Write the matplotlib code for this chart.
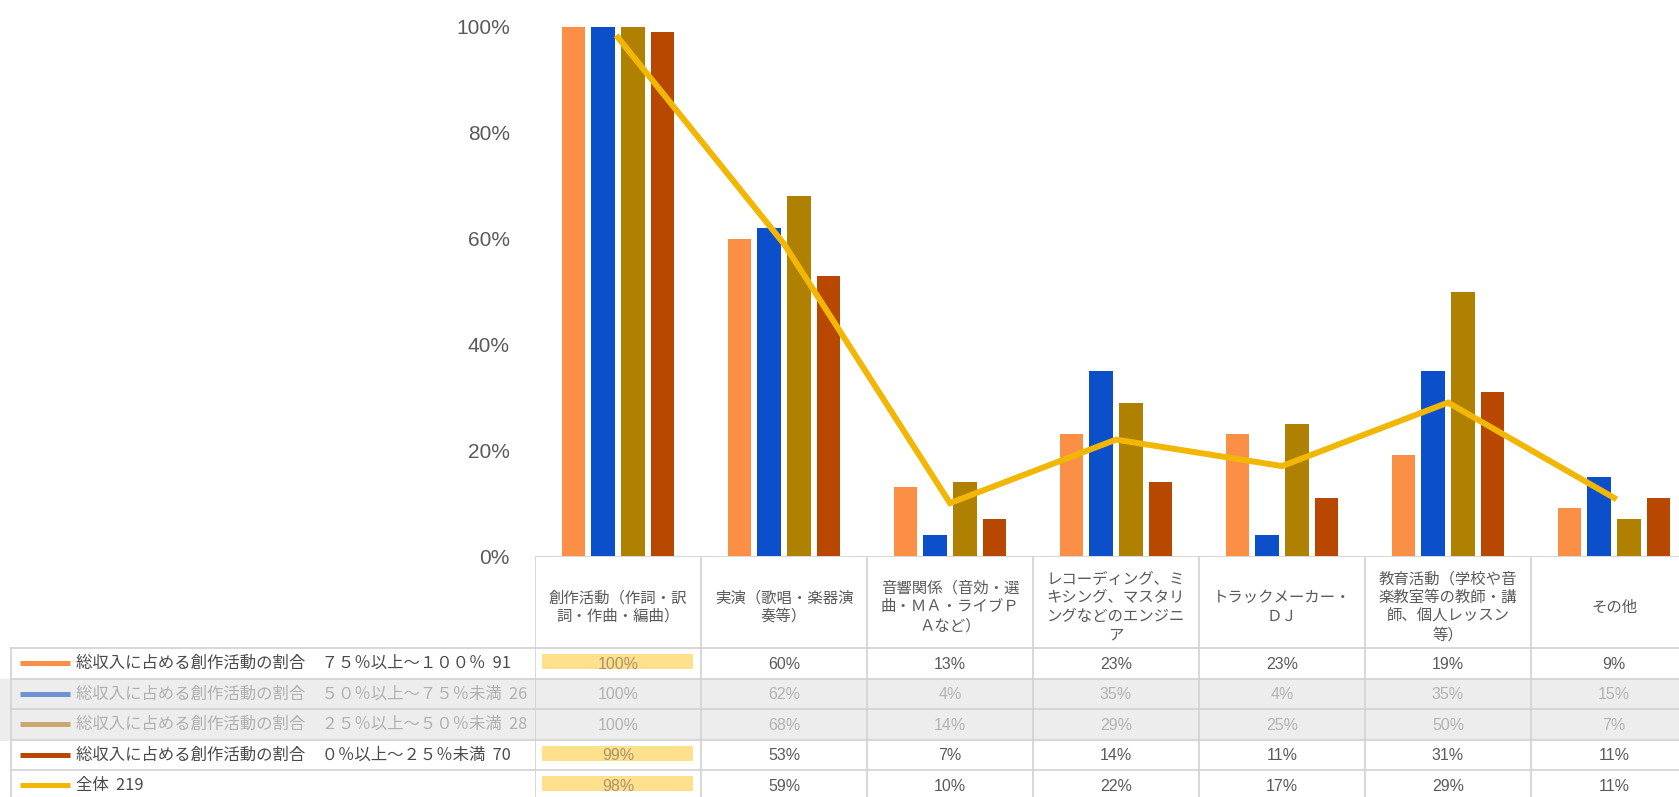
import matplotlib
matplotlib.use('Agg')
import matplotlib.pyplot as plt
from matplotlib.patches import Rectangle
import numpy as np

# ---------------- data ----------------
categories = [
    "創作活動（作詞・訳\n詞・作曲・編曲）",
    "実演（歌唱・楽器演\n奏等）",
    "音響関係（音効・選\n曲・ＭＡ・ライブＰ\nＡなど）",
    "レコーディング、ミ\nキシング、マスタリ\nングなどのエンジニ\nア",
    "トラックメーカー・\nＤＪ",
    "教育活動（学校や音\n楽教室等の教師・講\n師、個人レッスン\n等）",
    "その他",
]
series_labels = [
    "総収入に占める創作活動の割合　７５％以上～１００％  91",
    "総収入に占める創作活動の割合　５０％以上～７５％未満  26",
    "総収入に占める創作活動の割合　２５％以上～５０％未満  28",
    "総収入に占める創作活動の割合　０％以上～２５％未満  70",
    "全体  219",
]
s_75_100 = [100, 60, 13, 23, 23, 19, 9]
s_50_75 = [100, 62, 4, 35, 4, 35, 15]
s_25_50 = [100, 68, 14, 29, 25, 50, 7]
s_0_25 = [99, 53, 7, 14, 11, 31, 11]
total = [98, 59, 10, 22, 17, 29, 11]
faded_rows = [1, 2]
yticks = [0, 20, 40, 60, 80, 100]

bar_series = [s_75_100, s_50_75, s_25_50, s_0_25]
bar_colors = ['#FA8F45', '#0C4FCB', '#B08000', '#B84700']
legend_colors = ['#FA8F45', '#6F92D2', '#C9A970', '#B84700', '#F2B705']
line_color = '#F2B705'

CJK = ['Noto Sans CJK JP', 'DejaVu Sans']
NUM = ['Liberation Sans', 'DejaVu Sans']

W, H = 1679, 797
fig = plt.figure(figsize=(W / 100, H / 100), dpi=100)
fig.patch.set_facecolor('white')

# pixel layout
x_left, x_right = 535, 1697
y_zero, y_top = 556, 27
header_h = 92
row_h = 30.5

# ---------------- main chart ----------------
ax = fig.add_axes([x_left / W, 1 - y_zero / H, (x_right - x_left) / W, (y_zero - y_top) / H])
ax.set_facecolor('none')
n = len(categories)
x = np.arange(n)
ax.set_xlim(-0.5, n - 0.5)
ax.set_ylim(0, 100)
step, bw = 0.18, 0.14
for k, (vals, col) in enumerate(zip(bar_series, bar_colors)):
    ax.bar(x + (k - 1.5) * step, vals, width=bw, color=col, zorder=2)
ax.plot(x, total, color=line_color, lw=4.3, zorder=3, solid_joinstyle='miter')
ax.set_yticks(yticks)
ax.set_yticklabels([f"{v}%" for v in yticks], family=NUM, fontsize=15, color='#5A5A5A')
ax.tick_params(axis='y', length=0, pad=18)
ax.set_xticks([])
for s in ax.spines.values():
    s.set_visible(False)

# ---------------- table (data columns) ----------------
tab_h = H - y_zero
tax = fig.add_axes([x_left / W, 0, (x_right - x_left) / W, tab_h / H])
tax.set_xlim(-0.5, n - 0.5)
tax.set_ylim(tab_h, 0)
tax.axis('off')
tax.set_facecolor('none')

lax = fig.add_axes([0, 0, x_left / W, tab_h / H])
lax.set_xlim(0, x_left)
lax.set_ylim(tab_h, 0)
lax.axis('off')

grid_c = '#D2D2D2'
# grey band for faded rows
for r in faded_rows:
    y0 = header_h + r * row_h
    tax.axhspan(y0, y0 + row_h, color='#EDEDED', zorder=0)
    lax.axhspan(y0, y0 + row_h, color='#EDEDED', zorder=0)

# lines
tax.axhline(0, color=grid_c, lw=1.2, zorder=1)
for k in range(len(series_labels) + 1):
    yy = header_h + k * row_h
    tax.axhline(yy, color=grid_c, lw=1.2, zorder=1)
    lax.plot([11, x_left], [yy, yy], color=grid_c, lw=1.2, zorder=1)
for i in range(n + 1):
    tax.axvline(i - 0.5, color=grid_c, lw=1.2, zorder=1)
lax.plot([11, 11], [header_h, tab_h], color=grid_c, lw=1.2)

# headers
for i, c in enumerate(categories):
    tax.text(i, header_h / 2 + 5, c, ha='center', va='center', fontsize=11.1,
             color='#5A5A5A', family=CJK, linespacing=1.12, zorder=3)

# values
table_rows = [s_75_100, s_50_75, s_25_50, s_0_25, total]
cell_w = 166.0
for r, vals in enumerate(table_rows):
    yc = header_h + r * row_h + row_h / 2
    faded = r in faded_rows
    best = int(np.argmax(vals))
    for i, v in enumerate(vals):
        hl = (i == best) and not faded
        if hl:
            tax.add_patch(Rectangle((i - 0.5 + 7 / cell_w, yc - 9), 1 - 15 / cell_w, 15,
                                    facecolor='#FFE08C', edgecolor='none', zorder=2))
        col = '#B3B3B3' if faded else ('#A8966A' if hl else '#5A5A5A')
        tax.text(i, yc + 1, f"{v}%", ha='center', va='center', fontsize=11.5,
                 color=col, family=NUM, zorder=3)

# legend column
for r, (lab, col) in enumerate(zip(series_labels, legend_colors)):
    yc = header_h + r * row_h + row_h / 2
    faded = r in faded_rows
    lax.plot([20, 70], [yc, yc], color=col, lw=3.6, solid_capstyle='butt')
    lax.text(76, yc, lab, ha='left', va='center', fontsize=11.8,
             color='#B0B0B0' if faded else '#4A4A4A', family=CJK)

fig.savefig('out.png', dpi=100, facecolor='white')
